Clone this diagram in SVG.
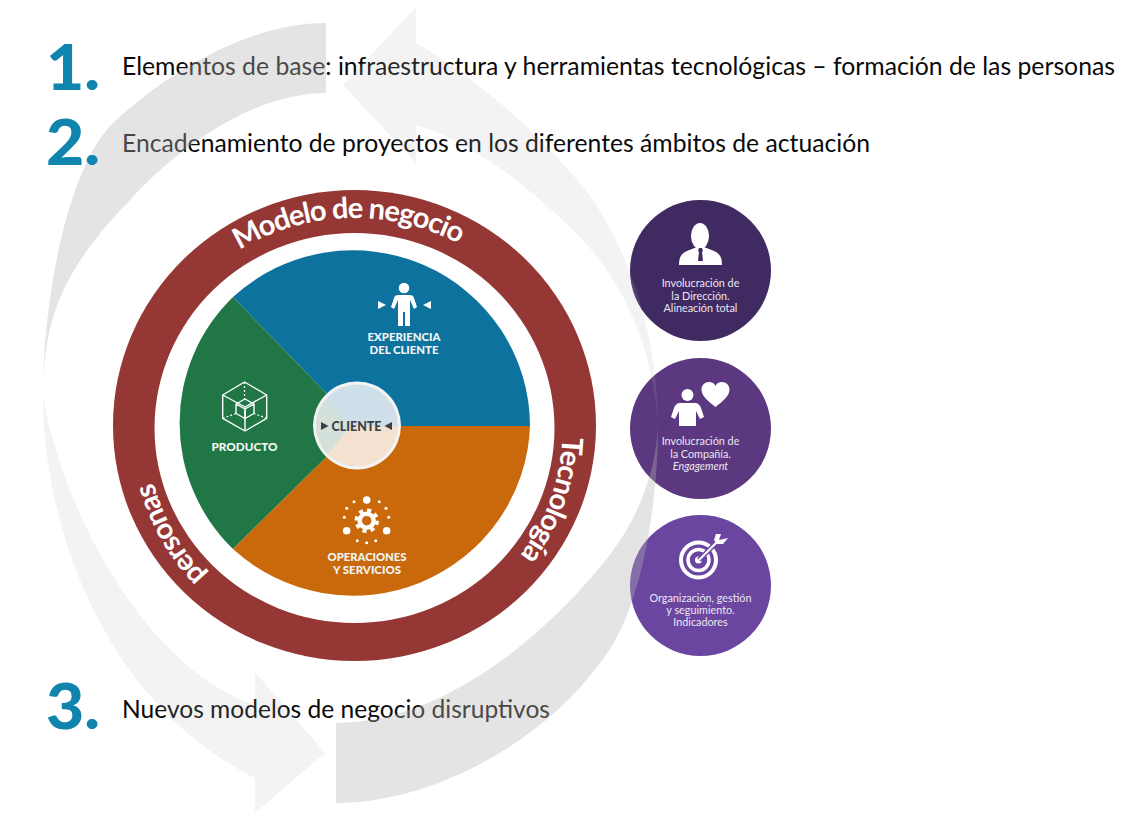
<svg xmlns="http://www.w3.org/2000/svg" width="1139" height="815" viewBox="0 0 1139 815">
<style>
.h{font-family:Lato,"Liberation Sans",sans-serif;font-size:24.5px;fill:#0a0a0a}
.n{font-family:Lato,"Liberation Sans",sans-serif;font-weight:900;font-size:63px;fill:#0f84ac}
.r{font-family:Lato,"Liberation Sans",sans-serif;font-weight:700;font-size:29px;letter-spacing:-1.1px;fill:#fff}
.w{font-family:Lato,"Liberation Sans",sans-serif;font-weight:900;font-size:11.5px;fill:#f2f6f4;text-anchor:middle}
.c{font-family:Lato,"Liberation Sans",sans-serif;font-size:10.8px;fill:#ebe7f2;text-anchor:middle}
.dk{fill:#b4b4b4;fill-opacity:.36}
.lt{fill:#b4b4b4;fill-opacity:.16}
.ic{fill:#fff}
.ln{fill:none;stroke:#fff;stroke-width:1.4;stroke-linejoin:round}
.ds{fill:none;stroke:#fff;stroke-width:1.2;stroke-dasharray:2 2}
</style>
<defs>
<clipPath id="cc"><circle cx="357" cy="425.5" r="41"/></clipPath>
<path id="pTop" d="M137.5,428 A217,210 0 0 1 571.5,428"/>
<path id="pRight" d="M562.5,428 A208,210 0 0 1 354.5,638"/>
<path id="pLeft" d="M354.5,638 A208,210 0 0 1 146.5,428 A208,210 0 0 1 354.5,218"/>
</defs>
<rect width="1139" height="815" fill="#fff"/>
<g id="headings">
<text class="h" x="122" y="75" textLength="993" lengthAdjust="spacingAndGlyphs">Elementos de base: infraestructura y herramientas tecnológicas – formación de las personas</text>
<text class="h" x="122" y="152" textLength="748" lengthAdjust="spacingAndGlyphs">Encadenamiento de proyectos en los diferentes ámbitos de actuación</text>
<text class="h" x="122" y="718" textLength="428" lengthAdjust="spacingAndGlyphs">Nuevos modelos de negocio disruptivos</text>
</g>
<g id="node-direccion">
<circle cx="700.5" cy="270.5" r="70.5" fill="#402a62"/>
<ellipse class="ic" cx="700" cy="236" rx="9" ry="13"/>
<path class="ic" d="M679,265 C679,256 682,252 692,249 L697,247 L704,247 L709,249 C719,252 722,256 722,265 Z"/>
<path d="M699,248 h3 l1,3 l-1,1 l1,9 h-5 l1,-9 l-1,-1 Z" fill="#402a62"/>
<text class="c" x="700.5" y="287">Involucración de</text>
<text class="c" x="700.5" y="299.5">la Dirección.</text>
<text class="c" x="700.5" y="312">Alineación total</text>
</g>
<g id="node-compania">
<circle cx="700.5" cy="428.5" r="70.5" fill="#5b387f"/>
<circle class="ic" cx="687.5" cy="395" r="6"/>
<path class="ic" d="M680,403 H695 C698,403 700,405 701,408 L704,417 L700,419 L696,411 V426 H679 V411 L675,419 L671,417 L674,408 C675,405 677,403 680,403 Z"/>
<path class="ic" d="M715.5,407 C708,401 701.5,396 701.5,389.5 C701.5,385 705,382 709,382 C712,382 714.5,383.5 715.5,386 C716.5,383.5 719,382 722,382 C726,382 729.5,385 729.5,389.5 C729.5,396 723,401 715.5,407 Z"/>
<text class="c" x="700.5" y="445">Involucración de</text>
<text class="c" x="700.5" y="457.5">la Compañía.</text>
<text class="c" x="700.5" y="470" font-style="italic">Engagement</text>
</g>
<g id="node-organizacion">
<circle cx="700.5" cy="585.5" r="70.5" fill="#6b46a0"/>
<circle cx="698.5" cy="560" r="17.5" fill="none" stroke="#fff" stroke-width="4"/>
<circle cx="698.5" cy="560" r="10.5" fill="none" stroke="#fff" stroke-width="3.5"/>
<circle class="ic" cx="698.5" cy="560" r="3.5"/>
<path d="M699,560 L718,541" stroke="#6b46a0" stroke-width="5" fill="none"/>
<path d="M699,560 L718,541" stroke="#fff" stroke-width="2.2" fill="none"/>
<path class="ic" d="M714,540 L716,534 L721,534 L719,540 L728,538 L723,544 L717,544 Z"/>
<text class="c" x="700.5" y="601.5">Organización, gestión</text>
<text class="c" x="700.5" y="613.5">y seguimiento.</text>
<text class="c" x="700.5" y="626">Indicadores</text>
</g>
<g id="connectors">
<path class="dk" d="M326,23 C250,23 170,70 113,123 C70,165 43,290 43,397 C43,320 62,270 130,200 C180,145 255,93 326,93 Z"/>
<path class="lt" d="M43,397 C43,520 100,700 255,778 L255,813 L325,753 L255,672 L255,705 C150,670 65,520 43,397 Z"/>
<path class="dk" d="M336,803 C430,803 540,745 600,663 C640,615 658,510 658,425 C656,470 640,520 600,567 C540,640 440,723 336,723 Z"/>
<path class="lt" d="M658,425 C658,330 625,240 583,187 C540,135 480,80 416,43 L416,7 L343,85 L416,163 L416,125 C480,145 530,190 570,227 C620,275 652,340 658,425 Z"/>
</g>
<g id="numbers">
<text class="n" x="46" y="90" textLength="54" lengthAdjust="spacingAndGlyphs">1.</text>
<text class="n" x="46" y="165" textLength="54" lengthAdjust="spacingAndGlyphs">2.</text>
<text class="n" x="46" y="729" textLength="54" lengthAdjust="spacingAndGlyphs">3.</text>
</g>
<g id="node-wheel">
<ellipse cx="354.5" cy="425.5" rx="241.5" ry="235.5" fill="#943735"/>
<ellipse cx="354.5" cy="428" rx="200" ry="195" fill="#fff"/>
<path d="M358,426 L530,426 A177,176 0 0 0 233,297 Z" fill="#0d729e"/>
<path d="M358,426 L233,297 A177,176 0 0 0 233,549 Z" fill="#217646"/>
<path d="M358,426 L233,549 A177,176 0 0 0 530,426 Z" fill="#c9690b"/>
<text class="r"><textPath href="#pTop" startOffset="49%" text-anchor="middle">Modelo de negocio</textPath></text>
<text class="r"><textPath href="#pRight" startOffset="9">Tecnología</textPath></text>
<text class="r"><textPath href="#pLeft" startOffset="165">personas</textPath></text>
</g>
<g id="node-cliente">
<circle cx="357" cy="425.5" r="44" fill="#f4f4f4"/>
<g clip-path="url(#cc)">
<rect x="310" y="380" width="95" height="46" fill="#cfe0ea"/>
<rect x="310" y="426" width="95" height="46" fill="#f5e1d0"/>
<path d="M350,426 L322,396 L310,396 L310,462 L322,462 Z" fill="#d4e1da"/>
</g>
<path d="M321,422 L328.5,426 L321,430 Z M392,422 L384.5,426 L392,430 Z" fill="#3a3f45"/>
<text class="w" x="356.5" y="430.5" style="font-size:12.5px;fill:#3a3f45" textLength="50" lengthAdjust="spacingAndGlyphs">CLIENTE</text>
</g>
<g id="node-experiencia">
<circle class="ic" cx="404" cy="288" r="5.3"/>
<path class="ic" d="M398,295 H410 Q413,295 414,298 L417,307 L414,309 L410,300 V326 H405 V312 H403 V326 H398 V300 L394,309 L391,307 L394,298 Q395,295 398,295 Z"/>
<path class="ic" d="M378,301 L386,305 L378,309 Z M431,301 L423,305 L431,309 Z"/>
<text class="w" x="404" y="341" textLength="73" lengthAdjust="spacingAndGlyphs">EXPERIENCIA</text>
<text class="w" x="404" y="354" textLength="69" lengthAdjust="spacingAndGlyphs">DEL CLIENTE</text>
</g>
<g id="node-producto">
<path class="ln" d="M244.5,382 L266.7,395 V418.3 L245,431 L222.7,418.3 V395 Z"/>
<path class="ln" d="M222.7,395 L245,407 L266.7,395 M245,407 V431"/>
<path class="ln" d="M245,399 L254,404 V413.5 L245,418.5 L236,413.5 V404 Z M236,404 L245,409 L254,404 M245,409 V418.5"/>
<path class="ds" d="M244.5,382 V399 M222.7,418.3 L236,413.5 M266.7,418.3 L254,413.5"/>
<text class="w" x="244.5" y="450.5" textLength="66" lengthAdjust="spacingAndGlyphs">PRODUCTO</text>
</g>
<g id="node-operaciones">
<circle cx="366.7" cy="520.7" r="7" fill="none" stroke="#fff" stroke-width="4.5"/>
<circle cx="366.7" cy="520.7" r="10.5" fill="none" stroke="#fff" stroke-width="3.5" stroke-dasharray="4.2 4.05"/>
<g class="ic">
<circle cx="366.7" cy="500" r="3.8"/><circle cx="346.7" cy="530.7" r="3.8"/><circle cx="386.7" cy="530.7" r="3.8"/>
<circle cx="354" cy="501.7" r="1.5"/><circle cx="379.3" cy="501.7" r="1.5"/><circle cx="346.7" cy="508.3" r="1.5"/><circle cx="386" cy="508.3" r="1.5"/>
<circle cx="344.3" cy="517.3" r="1.5"/><circle cx="388.7" cy="517.3" r="1.5"/><circle cx="357.3" cy="540.7" r="1.5"/><circle cx="366.7" cy="542.7" r="1.5"/><circle cx="375.7" cy="540.7" r="1.5"/>
</g>
<text class="w" x="367" y="560.7" textLength="79" lengthAdjust="spacingAndGlyphs">OPERACIONES</text>
<text class="w" x="367" y="574" textLength="68" lengthAdjust="spacingAndGlyphs">Y SERVICIOS</text>
</g>
</svg>
